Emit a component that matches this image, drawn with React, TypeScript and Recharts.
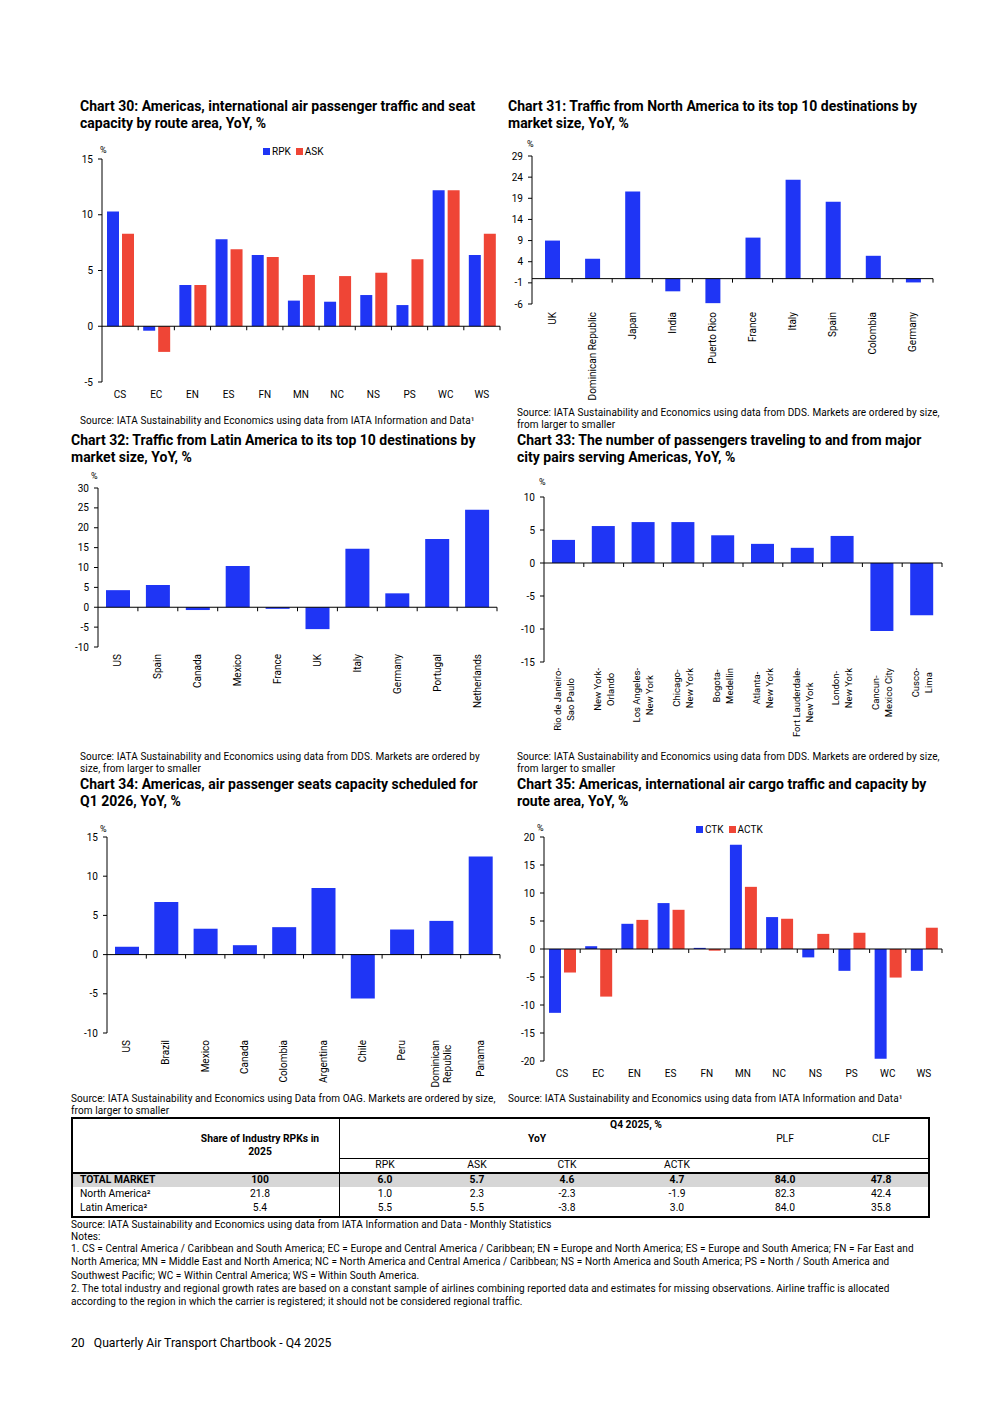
import React from 'react';
import { BarChart, Bar, XAxis, YAxis, ReferenceLine, Legend } from 'recharts';

const BLUE = '#1f35f5';
const RED = '#ef4536';
const FONT = 'Roboto, "Liberation Sans", Arial, sans-serif';

// ---------- Chart 30 ----------
const routeAreas = ['CS', 'EC', 'EN', 'ES', 'FN', 'MN', 'NC', 'NS', 'PS', 'WC', 'WS'];
const rpkGrowth = [10.3, -0.4, 3.7, 7.8, 6.4, 2.3, 2.2, 2.8, 1.9, 12.2, 6.4];
const askGrowth = [8.3, -2.3, 3.7, 6.9, 6.2, 4.6, 4.5, 4.8, 6.0, 12.2, 8.3];
const c30Ticks = [-5, 0, 5, 10, 15];

// ---------- Chart 31 ----------
const naDestinations = ['UK', 'Dominican Republic', 'Japan', 'India', 'Puerto Rico', 'France', 'Italy', 'Spain', 'Colombia', 'Germany'];
const naGrowth = [9.0, 4.7, 20.6, -3.0, -5.8, 9.7, 23.4, 18.2, 5.4, -0.9];
const c31Ticks = [-6, -1, 4, 9, 14, 19, 24, 29];

// ---------- Chart 32 ----------
const laDestinations = ['US', 'Spain', 'Canada', 'Mexico', 'France', 'UK', 'Italy', 'Germany', 'Portugal', 'Netherlands'];
const laGrowth = [4.3, 5.6, -0.7, 10.4, -0.4, -5.5, 14.7, 3.5, 17.2, 24.5];
const c32Ticks = [-10, -5, 0, 5, 10, 15, 20, 25, 30];

// ---------- Chart 33 ----------
const cityPairs = [
  'Rio de Janeiro-\nSao Paulo',
  'New York-\nOrlando',
  'Los Angeles-\nNew York',
  'Chicago-\nNew York',
  'Bogota-\nMedellin',
  'Atlanta-\nNew York',
  'Fort Lauderdale-\nNew York',
  'London-\nNew York',
  'Cancun-\nMexico City',
  'Cusco-\nLima',
];
const cityPairGrowth = [3.5, 5.6, 6.2, 6.2, 4.2, 2.9, 2.3, 4.1, -10.3, -7.9];
const c33Ticks = [-15, -10, -5, 0, 5, 10];

// ---------- Chart 34 ----------
const seatMarkets = ['US', 'Brazil', 'Mexico', 'Canada', 'Colombia', 'Argentina', 'Chile', 'Peru', 'Dominican\nRepublic', 'Panama'];
const seatGrowth = [1.0, 6.7, 3.3, 1.2, 3.5, 8.5, -5.6, 3.2, 4.3, 12.5];
const c34Ticks = [-10, -5, 0, 5, 10, 15];

// ---------- Chart 35 ----------
const ctkGrowth = [-11.4, 0.5, 4.5, 8.2, 0.2, 18.6, 5.7, -1.5, -3.9, -19.6, -3.9];
const actkGrowth = [-4.2, -8.5, 5.2, 7.0, -0.3, 11.1, 5.4, 2.7, 2.9, -5.1, 3.8];
const c35Ticks = [-20, -15, -10, -5, 0, 5, 10, 15, 20];

// ---------- Table ----------
const tableRegions = ['TOTAL MARKET', 'North America²', 'Latin America²'];
const tableShare = ['100', '21.8', '5.4'];
const tableRpk = ['6.0', '1.0', '5.5'];
const tableAsk = ['5.7', '2.3', '5.5'];
const tableCtk = ['4.6', '-2.3', '-3.8'];
const tableActk = ['4.7', '-1.9', '3.0'];
const tablePlf = ['84.0', '82.3', '84.0'];
const tableClf = ['47.8', '42.4', '35.8'];

// ---------- helpers ----------
let measureCtx: CanvasRenderingContext2D | null = null;
function textWidth(s: string, font: string) {
  if (!measureCtx && typeof document !== 'undefined') {
    measureCtx = document.createElement('canvas').getContext('2d');
  }
  if (!measureCtx) return s.length * 5;
  measureCtx.font = font;
  return measureCtx.measureText(s).width;
}

const zeroLineShape = (n: number) => (p: any) => {
  const { x1, y1, x2 } = p;
  const step = (x2 - x1) / n;
  return (
    <g>
      <line x1={x1} y1={y1} x2={x2} y2={y1} stroke="#000" strokeWidth={1} />
      {Array.from({ length: n }, (_, i) => {
        const x = x1 + step * (i + 1);
        return <line key={i} x1={x} x2={x} y1={y1} y2={y1 + 4} stroke="#000" strokeWidth={1} />;
      })}
    </g>
  );
};

const rotTick = (fontSize: number, lineH: number) => (props: any) => {
  const { x, y, payload } = props;
  const lines = String(payload.value).split('\n');
  const font = `${fontSize}px Roboto`;
  const maxW = Math.max(...lines.map((l) => textWidth(l, font)));
  const n = lines.length;
  return (
    <g transform={`translate(${x},${y}) rotate(-90)`}>
      {lines.map((l, i) => (
        <text
          key={i}
          x={-maxW / 2}
          y={(i - (n - 1) / 2) * lineH}
          dy="0.35em"
          textAnchor="middle"
          fontSize={fontSize}
          fontFamily={FONT}
          fill="#000"
        >
          {l}
        </text>
      ))}
    </g>
  );
};

const LegendContent = ({ items }: { items: { label: string; color: string }[] }) => (
  <div style={{ display: 'flex', alignItems: 'center', fontFamily: FONT, fontSize: 10, color: '#000', whiteSpace: 'nowrap' }}>
    {items.map((it, i) => (
      <span key={i} style={{ display: 'flex', alignItems: 'center', marginRight: 5 }}>
        <span style={{ display: 'inline-block', width: 7, height: 7, background: it.color, marginRight: 2 }} />
        {it.label}
      </span>
    ))}
  </div>
);

const SMALL = 10;
const SMALL_LS = 0.1;
const TABLE = 10.3;

const Txt = ({ x, y, size = SMALL, weight = 400, lh = 12.5, ls = SMALL_LS, children, anchor = 'left' }: any) => {
  const style: React.CSSProperties = {
    position: 'absolute',
    top: y - lh / 2,
    fontFamily: FONT,
    fontSize: size,
    fontWeight: weight,
    lineHeight: `${lh}px`,
    letterSpacing: ls,
    color: '#000',
    whiteSpace: 'nowrap',
  };
  if (anchor === 'left') style.left = x;
  else {
    style.left = x - 200;
    style.width = 400;
    style.textAlign = 'center';
  }
  return <div style={style}>{children}</div>;
};

const Title = ({ x, y, lines }: { x: number; y: number; lines: string[] }) => (
  <div
    style={{
      position: 'absolute',
      left: x,
      top: y - 7.5,
      fontFamily: FONT,
      fontSize: 14,
      fontWeight: 700,
      lineHeight: '17px',
      color: '#000',
      whiteSpace: 'nowrap',
    }}
  >
    {lines.map((l, i) => (
      <div key={i}>{l}</div>
    ))}
  </div>
);

const Source = ({ x, y, lines }: { x: number; y: number; lines: string[] }) => (
  <div
    style={{
      position: 'absolute',
      left: x,
      top: y - 5.5,
      fontFamily: FONT,
      fontSize: SMALL,
      letterSpacing: SMALL_LS,
      lineHeight: '12.5px',
      color: '#000',
      whiteSpace: 'nowrap',
    }}
  >
    {lines.map((l, i) => (
      <div key={i}>{l}</div>
    ))}
  </div>
);

const yAxisProps = (domain: number[], ticks: number[]) => ({
  domain,
  ticks,
  interval: 0 as const,
  allowDataOverflow: true,
  width: 30,
  tickSize: 4,
  tickMargin: 5,
  axisLine: { stroke: '#000' },
  tickLine: { stroke: '#000' },
  tick: { fontSize: 10, fill: '#000', fontFamily: FONT },
  type: 'number' as const,
});

// ---------- data tables for recharts ----------
const c30Data = routeAreas.map((c, i) => ({ cat: c, RPK: rpkGrowth[i], ASK: askGrowth[i] }));
const c31Data = naDestinations.map((c, i) => ({ cat: c, v: naGrowth[i] }));
const c32Data = laDestinations.map((c, i) => ({ cat: c, v: laGrowth[i] }));
const c33Data = cityPairs.map((c, i) => ({ cat: c, v: cityPairGrowth[i] }));
const c34Data = seatMarkets.map((c, i) => ({ cat: c, v: seatGrowth[i] }));
const c35Data = routeAreas.map((c, i) => ({ cat: c, CTK: ctkGrowth[i], ACTK: actkGrowth[i] }));

const SingleBarChart = ({ pos, width, height, margin, data, domain, ticks, xHeight, tickMargin, barSize, fontSize, lineH }: any) => (
  <div style={{ position: 'absolute', left: pos.left, top: pos.top }}>
    <BarChart width={width} height={height} data={data} margin={margin} barSize={barSize}>
      <XAxis
        dataKey="cat"
        axisLine={false}
        tickLine={false}
        tickSize={0}
        tickMargin={tickMargin}
        interval={0}
        height={xHeight}
        tick={rotTick(fontSize, lineH)}
      />
      <YAxis {...yAxisProps(domain, ticks)} />
      <Bar dataKey="v" fill={BLUE} isAnimationActive={false} />
      <ReferenceLine y={0} shape={zeroLineShape(data.length)} />
    </BarChart>
  </div>
);

const PairBarChart = ({ pos, width, height, margin, data, domain, ticks, keys, legendPos }: any) => (
  <div style={{ position: 'absolute', left: pos.left, top: pos.top }}>
    <BarChart width={width} height={height} data={data} margin={margin} barSize={12} barGap={3}>
      <XAxis
        dataKey="cat"
        axisLine={false}
        tickLine={false}
        tickSize={0}
        tickMargin={9}
        interval={0}
        height={22}
        tick={{ fontSize: 10, fill: '#000', fontFamily: FONT }}
      />
      <YAxis {...yAxisProps(domain, ticks)} />
      <Legend
        layout="vertical"
        align="center"
        verticalAlign="middle"
        wrapperStyle={{ top: legendPos.top, left: legendPos.left, width: 'auto' }}
        content={() => (
          <LegendContent
            items={[
              { label: keys[0], color: BLUE },
              { label: keys[1], color: RED },
            ]}
          />
        )}
      />
      <Bar dataKey={keys[0]} fill={BLUE} isAnimationActive={false} />
      <Bar dataKey={keys[1]} fill={RED} isAnimationActive={false} />
      <ReferenceLine y={0} shape={zeroLineShape(data.length)} />
    </BarChart>
  </div>
);

export default function App() {
  const colX = { share: 260, rpk: 385, ask: 477, ctk: 567, actk: 677, plf: 785, clf: 881 };
  const rowY = [1180, 1194, 1208];
  return (
    <div style={{ position: 'absolute', left: 0, top: 0, width: 992, height: 1403, background: '#fff', fontFamily: FONT }}>
      {/* Chart 30 */}
      <Title x={80} y={105} lines={['Chart 30: Americas, international air passenger traffic and seat', 'capacity by route area, YoY, %']} />
      <Txt x={100} y={150} size={9} ls={0}>%</Txt>
      <PairBarChart
        pos={{ left: 60, top: 140 }}
        width={450}
        height={270}
        margin={{ top: 19, right: 10, bottom: 6, left: 12 }}
        data={c30Data}
        domain={[-5, 15]}
        ticks={c30Ticks}
        keys={['RPK', 'ASK']}
        legendPos={{ top: 6, left: 203 }}
      />
      <Source x={80} y={420} lines={['Source: IATA Sustainability and Economics using data from IATA Information and Data¹']} />

      {/* Chart 31 */}
      <Title x={508} y={105} lines={['Chart 31: Traffic from North America to its top 10 destinations by', 'market size, YoY, %']} />
      <Txt x={527} y={144} size={9} ls={0}>%</Txt>
      <SingleBarChart
        pos={{ left: 490, top: 140 }}
        width={453}
        height={268}
        margin={{ top: 16, right: 10, bottom: 4, left: 12 }}
        data={c31Data}
        domain={[-6, 29]}
        ticks={c31Ticks}
        xHeight={100}
        tickMargin={8}
        barSize={15}
        fontSize={10}
        lineH={12.5}
      />
      <Source x={517} y={412} lines={['Source: IATA Sustainability and Economics using data from DDS. Markets are ordered by size,', 'from larger to smaller']} />

      {/* Chart 32 */}
      <Title x={71} y={439} lines={['Chart 32: Traffic from Latin America to its top 10 destinations by', 'market size, YoY, %']} />
      <Txt x={91} y={476} size={9} ls={0}>%</Txt>
      <SingleBarChart
        pos={{ left: 58, top: 470 }}
        width={449}
        height={281}
        margin={{ top: 18, right: 10, bottom: 4, left: 10 }}
        data={c32Data}
        domain={[-10, 30]}
        ticks={c32Ticks}
        xHeight={100}
        tickMargin={7}
        barSize={24}
        fontSize={10}
        lineH={12.5}
      />
      <Source x={80} y={756} lines={['Source: IATA Sustainability and Economics using data from DDS. Markets are ordered by', 'size, from larger to smaller']} />

      {/* Chart 33 */}
      <Title x={517} y={439} lines={['Chart 33: The number of passengers traveling to and from major', 'city pairs serving Americas, YoY, %']} />
      <Txt x={539} y={482} size={9} ls={0}>%</Txt>
      <SingleBarChart
        pos={{ left: 502, top: 480 }}
        width={450}
        height={276}
        margin={{ top: 17, right: 10, bottom: 4, left: 12 }}
        data={c33Data}
        domain={[-15, 10]}
        ticks={c33Ticks}
        xHeight={90}
        tickMargin={6}
        barSize={23}
        fontSize={9.5}
        lineH={13}
      />
      <Source x={517} y={756} lines={['Source: IATA Sustainability and Economics using data from DDS. Markets are ordered by size,', 'from larger to smaller']} />

      {/* Chart 34 */}
      <Title x={80} y={783} lines={['Chart 34: Americas, air passenger seats capacity scheduled for', 'Q1 2026, YoY, %']} />
      <Txt x={100} y={829} size={9} ls={0}>%</Txt>
      <SingleBarChart
        pos={{ left: 65, top: 820 }}
        width={445}
        height={277}
        margin={{ top: 17, right: 10, bottom: 4, left: 12 }}
        data={c34Data}
        domain={[-10, 15]}
        ticks={c34Ticks}
        xHeight={60}
        tickMargin={7}
        barSize={24}
        fontSize={10}
        lineH={12}
      />
      <Source x={71} y={1098} lines={['Source: IATA Sustainability and Economics using Data from OAG. Markets are ordered by size,', 'from larger to smaller']} />

      {/* Chart 35 */}
      <Title x={517} y={783} lines={['Chart 35: Americas, international air cargo traffic and capacity by', 'route area, YoY, %']} />
      <Txt x={537} y={828} size={9} ls={0}>%</Txt>
      <PairBarChart
        pos={{ left: 502, top: 815 }}
        width={450}
        height={272}
        margin={{ top: 22, right: 10, bottom: 4, left: 12 }}
        data={c35Data}
        domain={[-20, 20]}
        ticks={c35Ticks}
        keys={['CTK', 'ACTK']}
        legendPos={{ top: 9, left: 194 }}
      />
      <Source x={508} y={1098} lines={['Source: IATA Sustainability and Economics using data from IATA Information and Data¹']} />

      {/* Table */}
      <div style={{ position: 'absolute', left: 71, top: 1173, width: 859, height: 14, background: '#d6d6d6' }} />
      <div style={{ position: 'absolute', left: 71, top: 1117, width: 859, height: 101, border: '2px solid #000', boxSizing: 'border-box' }} />
      <div style={{ position: 'absolute', left: 339, top: 1117, width: 1, height: 101, background: '#000' }} />
      <div style={{ position: 'absolute', left: 339, top: 1157.5, width: 591, height: 1.5, background: '#000' }} />
      <div style={{ position: 'absolute', left: 71, top: 1171.5, width: 859, height: 2, background: '#000' }} />
      <Txt x={colX.share} y={1138} anchor="middle" weight={700} lh={13} size={TABLE} ls={0}>Share of Industry RPKs in</Txt>
      <Txt x={colX.share} y={1151} anchor="middle" weight={700} lh={13} size={TABLE} ls={0}>2025</Txt>
      <Txt x={636} y={1125} anchor="middle" weight={700} size={TABLE} ls={0}>Q4 2025, %</Txt>
      <Txt x={537} y={1139} anchor="middle" weight={700} size={TABLE} ls={0}>YoY</Txt>
      <Txt x={colX.plf} y={1139} anchor="middle" size={TABLE} ls={0}>PLF</Txt>
      <Txt x={colX.clf} y={1139} anchor="middle" size={TABLE} ls={0}>CLF</Txt>
      <Txt x={colX.rpk} y={1165} anchor="middle" size={TABLE} ls={0}>RPK</Txt>
      <Txt x={colX.ask} y={1165} anchor="middle" size={TABLE} ls={0}>ASK</Txt>
      <Txt x={colX.ctk} y={1165} anchor="middle" size={TABLE} ls={0}>CTK</Txt>
      <Txt x={colX.actk} y={1165} anchor="middle" size={TABLE} ls={0}>ACTK</Txt>
      {tableRegions.map((r, i) => {
        const w = i === 0 ? 700 : 400;
        const y = rowY[i];
        return (
          <React.Fragment key={r}>
            <Txt x={80} y={y} weight={w} size={TABLE} ls={0}>{r}</Txt>
            <Txt x={colX.share} y={y} anchor="middle" weight={w} size={TABLE} ls={0}>{tableShare[i]}</Txt>
            <Txt x={colX.rpk} y={y} anchor="middle" weight={w} size={TABLE} ls={0}>{tableRpk[i]}</Txt>
            <Txt x={colX.ask} y={y} anchor="middle" weight={w} size={TABLE} ls={0}>{tableAsk[i]}</Txt>
            <Txt x={colX.ctk} y={y} anchor="middle" weight={w} size={TABLE} ls={0}>{tableCtk[i]}</Txt>
            <Txt x={colX.actk} y={y} anchor="middle" weight={w} size={TABLE} ls={0}>{tableActk[i]}</Txt>
            <Txt x={colX.plf} y={y} anchor="middle" weight={w} size={TABLE} ls={0}>{tablePlf[i]}</Txt>
            <Txt x={colX.clf} y={y} anchor="middle" weight={w} size={TABLE} ls={0}>{tableClf[i]}</Txt>
          </React.Fragment>
        );
      })}

      {/* Notes */}
      <Txt x={71} y={1225.5}>Source: IATA Sustainability and Economics using data from IATA Information and Data - Monthly Statistics</Txt>
      <Txt x={71} y={1237.5}>Notes:</Txt>
      <Txt x={71} y={1249.5}>1. CS = Central America / Caribbean and South America; EC = Europe and Central America / Caribbean; EN = Europe and North America; ES = Europe and South America; FN = Far East and</Txt>
      <Txt x={71} y={1262.5}>North America; MN = Middle East and North America; NC = North America and Central America / Caribbean; NS = North America and South America; PS = North / South America and</Txt>
      <Txt x={71} y={1276}>Southwest Pacific; WC = Within Central America; WS = Within South America.</Txt>
      <Txt x={71} y={1289.5}>2. The total industry and regional growth rates are based on a constant sample of airlines combining reported data and estimates for missing observations. Airline traffic is allocated</Txt>
      <Txt x={71} y={1302.5}>according to the region in which the carrier is registered; it should not be considered regional traffic.</Txt>

      {/* Footer */}
      <Txt x={71} y={1343} size={12.2} lh={15} ls={0}>20&nbsp;&nbsp;&nbsp;Quarterly Air Transport Chartbook - Q4 2025</Txt>
    </div>
  );
}
